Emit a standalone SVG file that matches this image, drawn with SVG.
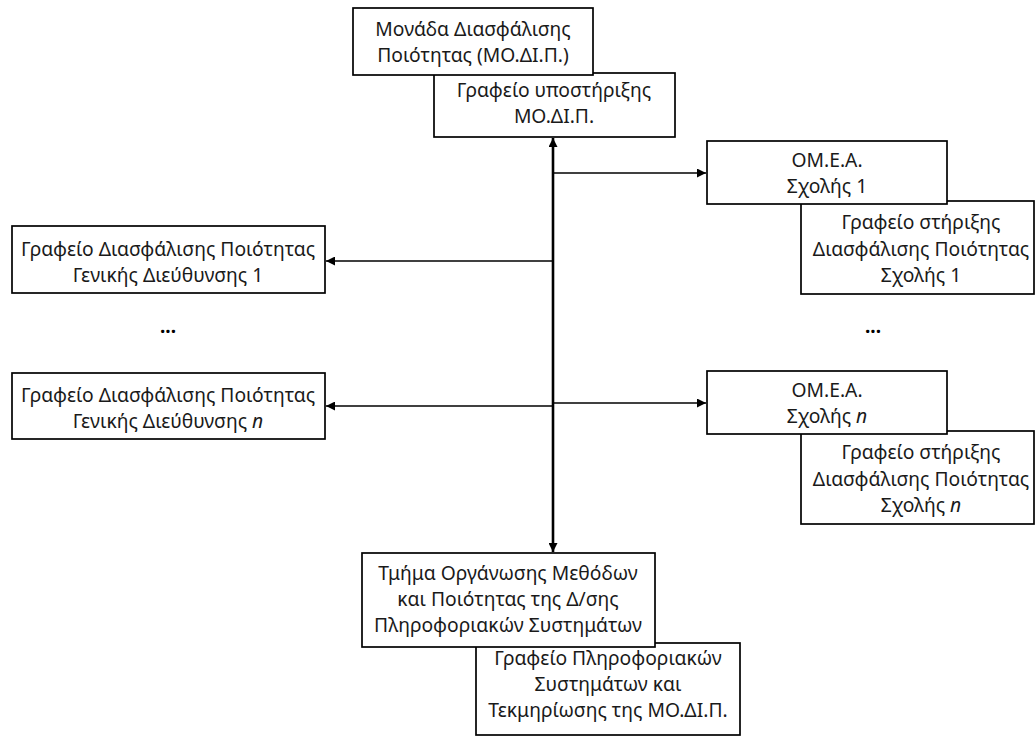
<svg xmlns="http://www.w3.org/2000/svg" width="1036" height="736" viewBox="0 0 1036 736">
<style>
.box{fill:#fff;stroke:#000;stroke-width:1.7}
.t{font-family:"Noto Sans","DejaVu Sans",sans-serif;font-size:19.3px;fill:#1a1a1a;text-anchor:middle}
.c{stroke:#000;stroke-width:1.6;fill:none}
.v{stroke:#000;stroke-width:2.6;fill:none}
.dots{font-family:"Noto Sans","DejaVu Sans",sans-serif;font-size:19px;font-weight:bold;fill:#000;text-anchor:middle}
</style>
<defs>
<marker id="ah" viewBox="0 0 10 10" refX="10" refY="5" markerWidth="10" markerHeight="9" markerUnits="userSpaceOnUse" orient="auto">
<path d="M0,0 L10,5 L0,10 Z" fill="#000"/>
</marker>
</defs>
<rect width="1036" height="736" fill="#fff"/>
<g id="connectors">
<line class="v" x1="553" y1="400" x2="553" y2="138" marker-end="url(#ah)"/>
<line class="v" x1="553" y1="400" x2="553" y2="552" marker-end="url(#ah)"/>
<line class="c" x1="553" y1="173" x2="706" y2="173" marker-end="url(#ah)"/>
<line class="c" x1="553" y1="403" x2="706" y2="403" marker-end="url(#ah)"/>
<line class="c" x1="553" y1="261" x2="326" y2="261" marker-end="url(#ah)"/>
<line class="c" x1="553" y1="406" x2="326" y2="406" marker-end="url(#ah)"/>
</g>
<g id="support-modip">
<rect class="box" x="434" y="73" width="241" height="64"/>
<text class="t" x="554" y="97">Γραφείο υποστήριξης</text>
<text class="t" x="554" y="123">ΜΟ.ΔΙ.Π.</text>
</g>
<g id="modip">
<rect class="box" x="353" y="8" width="240" height="67"/>
<text class="t" x="473" y="36">Μονάδα Διασφάλισης</text>
<text class="t" x="473" y="62">Ποιότητας (ΜΟ.ΔΙ.Π.)</text>
</g>
<g id="support-school-1">
<rect class="box" x="801" y="201" width="233" height="93"/>
<text class="t" x="921" y="229">Γραφείο στήριξης</text>
<text class="t" x="921" y="256">Διασφάλισης Ποιότητας</text>
<text class="t" x="921" y="282">Σχολής 1</text>
</g>
<g id="omea-1">
<rect class="box" x="707" y="141" width="240" height="63"/>
<text class="t" x="827" y="167">ΟΜ.Ε.Α.</text>
<text class="t" x="827" y="193">Σχολής 1</text>
</g>
<g id="support-school-n">
<rect class="box" x="801" y="431" width="233" height="93"/>
<text class="t" x="921" y="459">Γραφείο στήριξης</text>
<text class="t" x="921" y="486">Διασφάλισης Ποιότητας</text>
<text class="t" x="921" y="512">Σχολής <tspan font-style="italic">n</tspan></text>
</g>
<g id="omea-n">
<rect class="box" x="707" y="371" width="240" height="63"/>
<text class="t" x="827" y="397">ΟΜ.Ε.Α.</text>
<text class="t" x="827" y="423">Σχολής <tspan font-style="italic">n</tspan></text>
</g>
<g id="gd-1">
<rect class="box" x="12" y="226" width="313" height="67"/>
<text class="t" x="168" y="256">Γραφείο Διασφάλισης Ποιότητας</text>
<text class="t" x="168" y="282">Γενικής Διεύθυνσης 1</text>
</g>
<g id="gd-n">
<rect class="box" x="12" y="373" width="313" height="66"/>
<text class="t" x="168" y="402">Γραφείο Διασφάλισης Ποιότητας</text>
<text class="t" x="168" y="428">Γενικής Διεύθυνσης <tspan font-style="italic">n</tspan></text>
</g>
<g id="ellipsis-left"><text class="dots" x="168" y="333">...</text></g>
<g id="ellipsis-right"><text class="dots" x="873" y="333">...</text></g>
<g id="info-office">
<rect class="box" x="476" y="643" width="264" height="92"/>
<text class="t" x="608" y="665">Γραφείο Πληροφοριακών</text>
<text class="t" x="608" y="691">Συστημάτων και</text>
<text class="t" x="608" y="717">Τεκμηρίωσης της ΜΟ.ΔΙ.Π.</text>
</g>
<g id="methods-dept">
<rect class="box" x="362" y="553" width="293" height="94"/>
<text class="t" x="508" y="580">Τμήμα Οργάνωσης Μεθόδων</text>
<text class="t" x="508" y="606">και Ποιότητας της Δ/σης</text>
<text class="t" x="508" y="632">Πληροφοριακών Συστημάτων</text>
</g>
</svg>
